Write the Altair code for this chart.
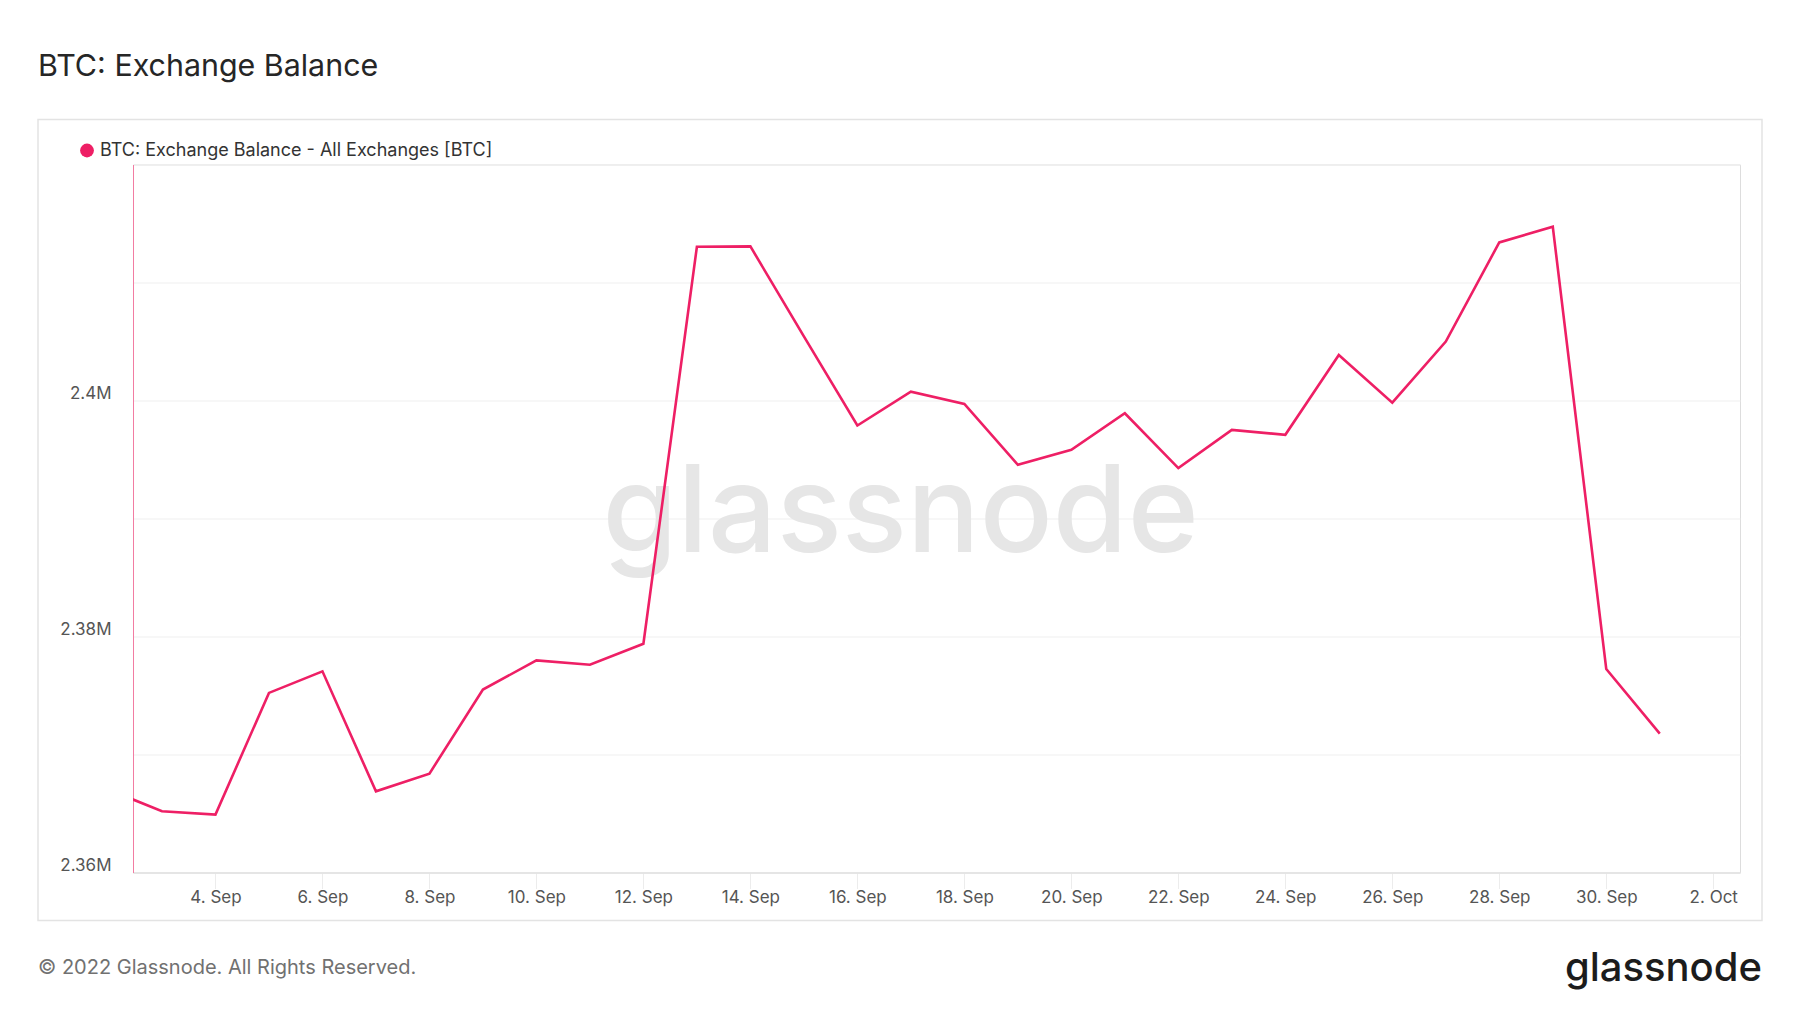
import altair as alt
import pandas as pd

# ---- data ----
dates = [
    "2022-09-02", "2022-09-03", "2022-09-04", "2022-09-05", "2022-09-06",
    "2022-09-07", "2022-09-08", "2022-09-09", "2022-09-10", "2022-09-11",
    "2022-09-12", "2022-09-13", "2022-09-14", "2022-09-15", "2022-09-16",
    "2022-09-17", "2022-09-18", "2022-09-19", "2022-09-20", "2022-09-21",
    "2022-09-22", "2022-09-23", "2022-09-24", "2022-09-25", "2022-09-26",
    "2022-09-27", "2022-09-28", "2022-09-29", "2022-09-30", "2022-10-01",
]
balance = [
    2367030, 2365190, 2364910, 2375220, 2377050,
    2366880, 2368380, 2375500, 2377980, 2377610,
    2379390, 2413030, 2413060, 2405430, 2397880,
    2400750, 2399710, 2394550, 2395820, 2398920,
    2394270, 2397510, 2397090, 2403860, 2399820,
    2404990, 2413400, 2414730, 2377240, 2371770,
]
series_name = "BTC: Exchange Balance - All Exchanges [BTC]"
title_text = "BTC: Exchange Balance"
footer_text = "\u00a9 2022 Glassnode. All Rights Reserved."
brand_text = "glassnode"

tick_days = [(9, 4), (9, 6), (9, 8), (9, 10), (9, 12), (9, 14), (9, 16), (9, 18),
             (9, 20), (9, 22), (9, 24), (9, 26), (9, 28), (9, 30), (10, 2)]
y_grid = [2360000, 2370000, 2380000, 2390000, 2400000, 2410000, 2420000]
y_labelled = [2360000, 2380000, 2400000]

df = pd.DataFrame({"date": dates, "value": balance, "series": series_name})

PINK = "#ee1f65"
W, H = 1607, 708

x_scale = alt.Scale(
    type="utc",
    domain=[alt.DateTime(year=2022, month=9, date=2, hours=11, utc=True),
            alt.DateTime(year=2022, month=10, date=2, hours=12, utc=True)],
)

line = alt.Chart(df).mark_line(strokeWidth=2.6, clip=True).encode(
    x=alt.X("date:T", scale=x_scale, title=None,
            axis=alt.Axis(
                values=[alt.DateTime(year=2022, month=m, date=d, utc=True) for m, d in tick_days],
                labelExpr="utcFormat(datum.value, '%-d. %b')",
                grid=False, domainColor="#e2e2e2", domainWidth=1.5,
                tickColor="#ececec", tickSize=16, tickWidth=1,
                labelFontSize=17, labelColor="#555555", labelPadding=1,
                labelFont="Inter")),
    y=alt.Y("value:Q", scale=alt.Scale(domain=[2360000, 2420000], nice=False, zero=False),
            title=None,
            axis=alt.Axis(
                values=y_grid,
                labelExpr="indexof([%s], datum.value) >= 0 ? format(datum.value, '.3~s') : ''"
                          % ",".join(str(v) for v in y_labelled),
                grid=True, gridColor="#efefef", gridWidth=1,
                ticks=False, tickSize=0, domainColor="#f27ca2", domainWidth=1,
                labelFontSize=17, labelColor="#555555", labelPadding=22,
                labelOffset=-2,
                labelBaseline="alphabetic", labelFont="Inter")),
    color=alt.Color("series:N", scale=alt.Scale(range=[PINK]),
                    legend=alt.Legend(
                        title=None, orient="none", legendX=-55, legendY=-23,
                        symbolType="circle", symbolSize=190, symbolStrokeWidth=0,
                        symbolFillColor=PINK, symbolStrokeColor=PINK,
                        symbolOpacity=1, labelLimit=0,
                        labelFontSize=18, labelColor="#333333", labelFont="Inter",
                        labelOffset=4)),
)

title = alt.Chart(pd.DataFrame({"t": [title_text]})).mark_text(
    align="left", baseline="alphabetic", fontSize=30.4, color="#262626", font="Inter"
).encode(text="t:N", x=alt.value(-95), y=alt.value(-88.5))

footer = alt.Chart(pd.DataFrame({"t": [footer_text]})).mark_text(
    align="left", baseline="middle", fontSize=20, color="#717171", font="Inter"
).encode(text="t:N", x=alt.value(-95), y=alt.value(803))

brand = alt.Chart(pd.DataFrame({"t": [brand_text]})).mark_text(
    align="right", baseline="alphabetic", fontSize=40, fontWeight=500,
    color="#1c1c1c", font="Inter"
).encode(text="t:N", x=alt.value(1629), y=alt.value(816))

watermark = alt.Chart(pd.DataFrame({"t": [brand_text]})).mark_text(
    align="center", baseline="middle", fontSize=121, fontWeight=500,
    color="#e6e6e6", font="Inter"
).encode(text="t:N", x=alt.value(767.6), y=alt.value(351))

frame = alt.Chart(pd.DataFrame({"t": [0]})).mark_rect(
    fill=None, stroke="#e3e3e3", strokeWidth=1.5
).encode(x=alt.value(-95), x2=alt.value(1629), y=alt.value(-45), y2=alt.value(756))

chart = alt.layer(frame, watermark, line, title, footer, brand).properties(
    width=W, height=H,
    autosize=alt.AutoSizeParams(type="none"),
    padding={"left": 125, "top": 156.5, "right": 40, "bottom": 120},
    background="white",
).configure_view(stroke=None).configure(font="Inter")

chart.save("out.html", embed_options={"renderer": "svg", "actions": False})
